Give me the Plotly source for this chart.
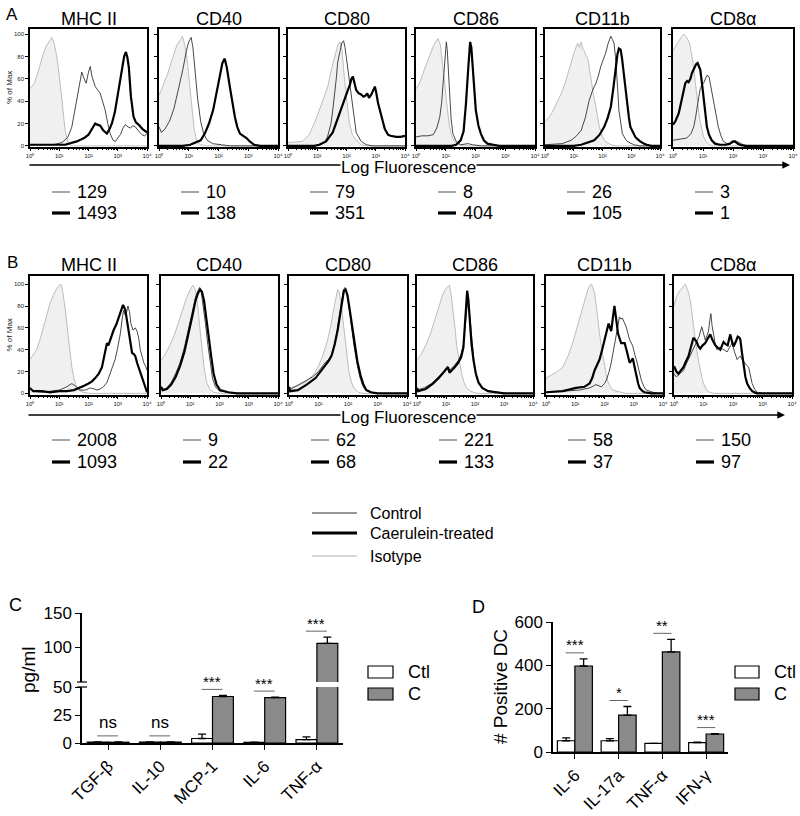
import plotly.graph_objects as go

W, H = 800, 816
FONT = "Arial, 'Liberation Sans', Helvetica, sans-serif"

# ---------------- data ----------------
MARKERS = ["MHC II", "CD40", "CD80", "CD86", "CD11b", "CD8α"]
A_CTL_MFI = [129, 10, 79, 8, 26, 3]
A_TRT_MFI = [1493, 138, 351, 404, 105, 1]
B_CTL_MFI = [2008, 9, 62, 221, 58, 150]
B_TRT_MFI = [1093, 22, 68, 133, 37, 97]

DECADE_VALUES = [1, 10, 100, 1000, 10000]
DECADE_LABELS = ["10⁰", "10¹", "10²", "10³", "10⁴"]
PCT_TICKS = [0, 20, 40, 60, 80, 100]

# histogram curves: (log10 fluorescence, % of max)
A_MHCII_ISO = [(0,51),(0.15,56),(0.3,68),(0.45,82),(0.57,90),(0.68,94),(0.75,97),(0.82,92),(0.91,81),(1.03,56),(1.14,32),(1.2,14),(1.31,2),(1.45,0),(4,0)]
A_MHCII_CTL = [(0,1),(0.8,1),(1.1,3),(1.3,8),(1.43,17),(1.52,30),(1.6,44),(1.7,58),(1.77,66),(1.85,60),(1.92,56),(2.0,66),(2.06,71),(2.12,62),(2.23,53),(2.4,47),(2.57,32),(2.66,20),(2.74,11),(2.84,5),(2.92,4),(3.0,7),(3.09,10),(3.18,16),(3.26,19),(3.35,17),(3.43,16),(3.52,18),(3.6,17),(3.72,13),(3.83,10),(3.92,9),(4,11)]
A_MHCII_TRT = [(0,1),(1.2,1),(1.6,4),(1.85,7),(2.0,10),(2.12,15),(2.23,20),(2.3,19),(2.4,18),(2.5,14),(2.63,11),(2.72,15),(2.8,20),(2.9,30),(2.97,41),(3.05,52),(3.11,62),(3.17,72),(3.22,80),(3.28,84),(3.33,79),(3.38,70),(3.45,44),(3.54,26),(3.62,21),(3.71,19),(3.85,15),(4,12)]
A_CD40_ISO = [(0,45),(0.15,55),(0.3,65),(0.45,78),(0.6,90),(0.72,95),(0.79,98),(0.87,90),(0.95,76),(1.03,55),(1.1,34),(1.18,15),(1.27,4),(1.4,1),(1.6,0),(4,0)]
A_CD40_CTL = [(0,17),(0.08,12),(0.2,15),(0.35,22),(0.5,33),(0.65,50),(0.8,68),(0.92,85),(1.0,93),(1.08,97),(1.14,88),(1.22,65),(1.3,42),(1.4,22),(1.5,11),(1.62,5),(1.8,2),(2.1,1),(2.4,0),(4,0)]
A_CD40_TRT = [(0,0),(0.8,0),(1.05,1),(1.26,3),(1.4,5),(1.54,11),(1.68,20),(1.82,32),(1.93,47),(2.04,62),(2.13,74),(2.21,78),(2.28,70),(2.38,53),(2.47,38),(2.55,26),(2.63,17),(2.72,11),(2.83,9),(2.94,7),(3.05,4),(3.2,1),(3.4,0),(4,0)]
A_CD80_ISO = [(0,3),(0.3,4),(0.49,4),(0.72,10),(0.9,20),(1.07,32),(1.2,42),(1.36,53),(1.48,68),(1.59,80),(1.7,90),(1.78,93),(1.85,85),(1.93,60),(2.02,38),(2.1,20),(2.2,10),(2.33,5),(2.5,1),(2.7,0),(4,0)]
A_CD80_CTL = [(0,0),(0.9,0),(1.1,1),(1.24,3),(1.35,8),(1.47,20),(1.53,32),(1.59,45),(1.65,60),(1.7,75),(1.77,85),(1.84,92),(1.9,94),(1.95,88),(1.99,80),(2.05,68),(2.1,55),(2.16,42),(2.22,30),(2.33,12),(2.5,4),(2.68,1),(2.9,0),(4,0)]
A_CD80_TRT = [(0,0),(0.9,0),(1.07,1),(1.3,4),(1.53,12),(1.76,28),(1.93,40),(2.05,50),(2.12,55),(2.17,60),(2.22,62),(2.27,56),(2.33,50),(2.42,47),(2.5,46),(2.58,44),(2.65,45),(2.71,47),(2.77,43),(2.85,46),(2.92,50),(2.97,53),(3.02,47),(3.08,38),(3.2,26),(3.31,15),(3.42,10),(3.5,9),(3.7,8),(3.85,8),(4,9)]
A_CD86_ISO = [(0,51),(0.12,56),(0.25,66),(0.36,74),(0.47,82),(0.58,89),(0.66,93),(0.74,96),(0.82,90),(0.91,71),(0.97,55),(1.02,41),(1.08,28),(1.13,17),(1.2,9),(1.3,4),(1.45,1),(1.6,0),(4,0)]
A_CD86_CTL = [(0,8),(0.2,9),(0.4,9),(0.58,10),(0.7,16),(0.8,26),(0.86,38),(0.91,56),(0.95,75),(0.99,90),(1.02,93),(1.05,86),(1.09,65),(1.13,41),(1.18,24),(1.24,11),(1.35,4),(1.5,1),(1.75,2),(1.9,1),(2.2,0),(4,0)]
A_CD86_TRT = [(0,0),(1.2,0),(1.35,1),(1.5,5),(1.6,13),(1.68,38),(1.76,71),(1.82,93),(1.86,88),(1.9,71),(1.95,50),(2.01,32),(2.1,18),(2.18,11),(2.28,5),(2.4,2),(2.6,1),(2.8,0),(4,0)]
A_CD11B_ISO = [(0,22),(0.12,25),(0.25,30),(0.4,38),(0.57,47),(0.7,56),(0.8,65),(0.92,75),(1.03,85),(1.14,92),(1.2,88),(1.26,93),(1.32,86),(1.37,85),(1.43,80),(1.49,78),(1.55,68),(1.6,59),(1.68,47),(1.77,35),(1.89,17),(2.0,8),(2.1,4),(2.29,1),(2.5,0),(4,0)]
A_CD11B_CTL = [(0,1),(0.6,2),(0.91,5),(1.1,9),(1.26,14),(1.4,25),(1.54,41),(1.66,50),(1.77,56),(1.85,62),(1.94,71),(2.03,77),(2.11,83),(2.2,92),(2.29,98),(2.35,95),(2.4,92),(2.45,80),(2.49,68),(2.53,50),(2.57,32),(2.63,20),(2.69,11),(2.8,6),(2.86,4),(3.09,1),(3.3,0),(4,0)]
A_CD11B_TRT = [(0,0),(1.0,0),(1.26,1),(1.5,3),(1.71,5),(1.9,10),(2.06,17),(2.18,25),(2.29,35),(2.38,52),(2.46,71),(2.52,82),(2.57,87),(2.63,86),(2.68,78),(2.74,65),(2.8,50),(2.86,35),(2.92,25),(2.97,17),(3.05,12),(3.14,8),(3.22,6),(3.31,4),(3.45,2),(3.54,1),(3.7,0),(4,0)]
A_CD8A_ISO = [(0,85),(0.1,90),(0.2,94),(0.3,98),(0.36,100),(0.45,97),(0.55,92),(0.62,82),(0.69,70),(0.75,55),(0.8,42),(0.86,30),(0.91,21),(0.97,13),(1.02,8),(1.1,4),(1.18,2),(1.3,0),(4,0)]
A_CD8A_CTL = [(0,5),(0.2,6),(0.46,7),(0.6,11),(0.69,17),(0.75,25),(0.8,35),(0.86,44),(0.91,51),(0.97,55),(1.02,56),(1.08,60),(1.13,63),(1.2,62),(1.25,55),(1.29,47),(1.35,40),(1.4,32),(1.46,24),(1.51,17),(1.6,9),(1.68,4),(1.8,2),(1.9,2),(2.0,3),(2.12,4),(2.2,3),(2.34,1),(2.5,0),(4,0)]
A_CD8A_TRT = [(0,19),(0.08,22),(0.19,29),(0.3,42),(0.41,56),(0.47,58),(0.52,57),(0.58,60),(0.63,65),(0.7,69),(0.77,73),(0.82,74),(0.87,71),(0.91,68),(0.97,55),(1.02,41),(1.08,28),(1.13,17),(1.2,10),(1.29,5),(1.4,2),(1.57,1),(1.75,1),(1.9,2),(2.0,4),(2.07,4),(2.15,2),(2.23,1),(2.4,0),(4,0)]

B_MHCII_ISO = [(0,31),(0.1,35),(0.23,40),(0.35,50),(0.46,61),(0.58,72),(0.69,83),(0.8,90),(0.91,96),(1.0,99),(1.06,100),(1.12,93),(1.2,78),(1.31,52),(1.38,35),(1.43,24),(1.5,14),(1.58,7),(1.66,3),(1.83,1),(2.0,0),(4,0)]
B_MHCII_CTL = [(0,5),(0.11,2),(0.4,1),(0.69,2),(1.0,3),(1.26,6),(1.43,9),(1.54,7),(1.71,3),(1.9,3),(2.06,5),(2.2,4),(2.29,3),(2.4,4),(2.51,6),(2.63,10),(2.74,18),(2.85,26),(2.91,31),(3.0,42),(3.09,55),(3.15,68),(3.2,76),(3.25,72),(3.29,73),(3.35,80),(3.4,75),(3.45,64),(3.52,58),(3.6,60),(3.66,57),(3.72,50),(3.77,40),(3.84,33),(3.89,28),(3.95,25),(4,21)]
B_MHCII_TRT = [(0,5),(0.11,2),(0.4,2),(0.69,1),(1.0,2),(1.26,2),(1.5,3),(1.71,5),(1.85,7),(2.0,9),(2.12,11),(2.23,14),(2.35,18),(2.46,24),(2.55,35),(2.63,46),(2.68,44),(2.74,49),(2.8,55),(2.86,58),(2.95,63),(3.03,70),(3.1,75),(3.18,81),(3.22,79),(3.26,76),(3.32,66),(3.37,58),(3.43,45),(3.49,37),(3.55,36),(3.6,34),(3.66,28),(3.71,24),(3.77,20),(3.83,15),(3.9,9),(3.94,5),(4,1)]
B_CD40_ISO = [(0,30),(0.15,36),(0.3,44),(0.45,53),(0.6,65),(0.75,78),(0.88,88),(1.0,95),(1.09,99),(1.17,95),(1.25,82),(1.32,62),(1.4,40),(1.48,22),(1.56,10),(1.66,4),(1.8,1),(2.0,0),(4,0)]
B_CD40_CTL = [(0,5),(0.06,3),(0.2,5),(0.35,10),(0.5,18),(0.65,28),(0.8,42),(0.95,60),(1.08,76),(1.18,88),(1.26,94),(1.32,97),(1.38,92),(1.45,80),(1.52,64),(1.6,45),(1.68,28),(1.76,14),(1.86,6),(2.0,2),(2.3,1),(2.6,0),(4,0)]
B_CD40_TRT = [(0,6),(0.06,3),(0.2,4),(0.35,8),(0.5,15),(0.65,25),(0.8,38),(0.95,55),(1.08,72),(1.18,85),(1.27,92),(1.34,95),(1.4,93),(1.47,85),(1.55,70),(1.63,52),(1.72,33),(1.8,18),(1.9,8),(2.02,3),(2.3,1),(2.6,0),(4,0)]
B_CD80_ISO = [(0,5),(0.3,7),(0.6,11),(0.85,18),(1.0,25),(1.15,35),(1.3,48),(1.42,62),(1.52,78),(1.6,90),(1.65,95),(1.7,93),(1.77,82),(1.85,62),(1.94,38),(2.03,20),(2.12,10),(2.2,5),(2.35,1),(2.5,0),(4,0)]
B_CD80_CTL = [(0,3),(0.2,6),(0.5,10),(0.8,15),(1.0,20),(1.15,25),(1.25,29),(1.35,31),(1.45,36),(1.55,46),(1.65,60),(1.73,75),(1.8,88),(1.85,95),(1.9,97),(1.96,92),(2.03,80),(2.1,64),(2.2,44),(2.3,28),(2.4,15),(2.5,7),(2.6,3),(2.75,1),(3.0,0),(4,0)]
B_CD80_TRT = [(0,6),(0.04,2),(0.3,3),(0.6,8),(0.9,14),(1.1,21),(1.25,27),(1.35,30),(1.45,35),(1.55,45),(1.65,58),(1.74,74),(1.81,88),(1.86,94),(1.92,95),(1.98,90),(2.05,78),(2.13,62),(2.22,45),(2.32,29),(2.42,17),(2.52,8),(2.62,3),(2.78,1),(3.0,0),(4,0)]
B_CD86_ISO = [(0,31),(0.15,36),(0.3,44),(0.45,54),(0.6,66),(0.75,79),(0.87,89),(0.97,95),(1.06,98),(1.11,99),(1.17,92),(1.25,76),(1.32,58),(1.37,43),(1.45,30),(1.54,18),(1.62,10),(1.71,5),(1.85,2),(1.94,1),(2.1,0),(4,0)]
B_CD86_CTL = [(0,3),(0.25,5),(0.5,9),(0.7,14),(0.85,18),(0.97,22),(1.05,25),(1.12,21),(1.2,23),(1.3,26),(1.42,30),(1.52,36),(1.6,45),(1.66,60),(1.71,78),(1.75,86),(1.79,80),(1.84,66),(1.9,45),(1.97,28),(2.05,15),(2.15,8),(2.3,4),(2.5,2),(2.8,1),(3.1,0),(4,0)]
B_CD86_TRT = [(0,5),(0.04,2),(0.3,4),(0.55,9),(0.75,14),(0.9,19),(1.0,22),(1.07,24),(1.12,19),(1.2,21),(1.3,24),(1.42,28),(1.52,33),(1.6,42),(1.65,60),(1.69,82),(1.73,94),(1.77,86),(1.82,65),(1.88,45),(1.95,30),(2.03,18),(2.12,10),(2.25,5),(2.45,2),(2.7,1),(3.0,0),(4,0)]
B_CD11B_ISO = [(0,14),(0.2,17),(0.4,20),(0.57,24),(0.75,34),(0.91,46),(1.05,59),(1.2,73),(1.32,85),(1.43,95),(1.5,99),(1.55,100),(1.6,97),(1.66,92),(1.72,80),(1.77,67),(1.83,55),(1.89,43),(1.95,33),(2.0,24),(2.06,17),(2.11,11),(2.2,6),(2.29,3),(2.51,1),(2.7,0),(4,0)]
B_CD11B_CTL = [(0,1),(0.57,2),(1.14,3),(1.49,5),(1.71,8),(1.89,6),(2.0,9),(2.06,12),(2.15,19),(2.23,28),(2.32,40),(2.4,52),(2.46,62),(2.51,70),(2.56,68),(2.61,69),(2.67,65),(2.74,61),(2.8,55),(2.86,49),(2.92,46),(2.97,43),(3.03,36),(3.09,31),(3.17,22),(3.26,12),(3.35,6),(3.43,3),(3.66,1),(3.85,0),(4,0)]
B_CD11B_TRT = [(0,1),(0.57,2),(1.03,5),(1.31,6),(1.49,9),(1.58,14),(1.66,21),(1.75,27),(1.83,31),(1.92,40),(2.0,49),(2.07,57),(2.14,64),(2.19,60),(2.23,57),(2.28,68),(2.34,80),(2.4,68),(2.46,55),(2.52,50),(2.57,46),(2.63,46),(2.69,46),(2.75,40),(2.8,35),(2.86,28),(2.92,30),(2.97,32),(3.03,24),(3.09,15),(3.15,9),(3.2,5),(3.3,2),(3.37,1),(3.6,0),(4,0)]
B_CD8A_ISO = [(0,80),(0.09,89),(0.2,94),(0.3,98),(0.38,100),(0.46,95),(0.55,86),(0.6,75),(0.66,61),(0.72,50),(0.77,40),(0.83,30),(0.89,21),(0.95,14),(1.0,9),(1.06,5),(1.11,3),(1.2,1),(1.35,0),(4,0)]
B_CD8A_CTL = [(0,18),(0.08,15),(0.15,17),(0.24,19),(0.32,21),(0.4,26),(0.49,31),(0.57,36),(0.66,40),(0.72,44),(0.77,46),(0.85,52),(0.94,61),(1.0,55),(1.06,49),(1.12,53),(1.17,57),(1.22,68),(1.25,73),(1.29,62),(1.34,52),(1.4,45),(1.45,40),(1.54,42),(1.63,41),(1.72,39),(1.8,38),(1.88,42),(1.97,46),(2.05,38),(2.14,31),(2.2,33),(2.25,34),(2.31,31),(2.36,29),(2.45,26),(2.53,24),(2.6,16),(2.65,9),(2.73,4),(2.82,1),(3.0,0),(4,0)]
B_CD8A_TRT = [(0,25),(0.08,20),(0.15,18),(0.24,21),(0.32,24),(0.4,29),(0.49,34),(0.57,42),(0.66,51),(0.72,49),(0.77,47),(0.83,43),(0.89,41),(0.97,44),(1.06,46),(1.14,50),(1.23,54),(1.3,49),(1.4,44),(1.48,42),(1.57,40),(1.63,44),(1.68,47),(1.75,45),(1.82,44),(1.87,50),(1.91,54),(1.96,48),(2.02,43),(2.09,47),(2.16,52),(2.22,51),(2.25,49),(2.3,38),(2.36,24),(2.42,15),(2.48,9),(2.56,5),(2.65,2),(2.8,0),(4,0)]

A_ISO = [A_MHCII_ISO, A_CD40_ISO, A_CD80_ISO, A_CD86_ISO, A_CD11B_ISO, A_CD8A_ISO]
A_CTL = [A_MHCII_CTL, A_CD40_CTL, A_CD80_CTL, A_CD86_CTL, A_CD11B_CTL, A_CD8A_CTL]
A_TRT = [A_MHCII_TRT, A_CD40_TRT, A_CD80_TRT, A_CD86_TRT, A_CD11B_TRT, A_CD8A_TRT]
B_ISO = [B_MHCII_ISO, B_CD40_ISO, B_CD80_ISO, B_CD86_ISO, B_CD11B_ISO, B_CD8A_ISO]
B_CTL = [B_MHCII_CTL, B_CD40_CTL, B_CD80_CTL, B_CD86_CTL, B_CD11B_CTL, B_CD8A_CTL]
B_TRT = [B_MHCII_TRT, B_CD40_TRT, B_CD80_TRT, B_CD86_TRT, B_CD11B_TRT, B_CD8A_TRT]

LEGEND_LABELS = ["Control", "Caerulein-treated", "Isotype"]

# panel C (cytokines, pg/ml)
C_CATS = ["TGF-β", "IL-10", "MCP-1", "IL-6", "TNF-α"]
C_CTL = [0.8, 0.8, 4.0, 0.6, 3.0]
C_CTL_ERR = [0.2, 0.2, 4.0, 0.2, 2.5]
C_TRT = [0.7, 0.8, 41.5, 40.5, 106]
C_TRT_ERR = [0.2, 0.2, 1.0, 0.5, 9.0]
C_SIG = ["ns", "ns", "***", "***", "***"]
C_TICKS_LOW = [0, 25, 50]
C_TICKS_HIGH = [100, 150]

# panel D (# positive DC)
D_CATS = ["IL-6", "IL-17a", "TNF-α", "IFN-γ"]
D_CTL = [52, 52, 40, 43]
D_CTL_ERR = [13, 10, 0, 3]
D_TRT = [397, 170, 462, 83]
D_TRT_ERR = [33, 40, 58, 2]
D_SIG = ["***", "*", "**", "***"]
D_TICKS = [0, 200, 400, 600]
GROUP_LABELS = ["Ctl", "C"]

# ---------------- styles / layout helpers ----------------
ISO_LINE = "#bdbdbd"
ISO_FILL = "#f0f0f0"
CTL_LINE = "#333333"
BAR_GREY = "#8a8a8a"


def fx(px):
    return px / W


def fy(py):
    return 1 - py / H


def axn(k, kind):
    return kind if k == 1 else f"{kind}{k}"


def axk(k, kind):
    return f"{kind}axis" if k == 1 else f"{kind}axis{k}"


def text_at(xpx, ypx, text, size, xanchor="center", **kw):
    return dict(x=fx(xpx), y=fy(ypx), xref="paper", yref="paper", text=text,
                showarrow=False, xanchor=xanchor, yanchor="middle",
                font=dict(size=size, color=kw.pop("color", "black")), **kw)


fig = go.Figure()
layout = {}
annotations = []
shapes = []

ROWS = [
    dict(iso=A_ISO, ctl=A_CTL, trt=A_TRT, ctl_mfi=A_CTL_MFI, trt_mfi=A_TRT_MFI,
         left=[30, 159, 288, 416, 545, 673], right=[147, 278, 405, 535, 660, 793],
         top=29, bottom=147, yrange=[-1, 104.5], title_y=19, label="A", label_y=14,
         arrow_y=165, arrow_x0=28, arrow_x1=790, mfi_y=(192, 213)),
    dict(iso=B_ISO, ctl=B_CTL, trt=B_TRT, ctl_mfi=B_CTL_MFI, trt_mfi=B_TRT_MFI,
         left=[30, 161, 289, 417, 546, 674], right=[147, 278, 407, 533, 663, 792],
         top=276, bottom=395, yrange=[-1.5, 107.5], title_y=265, label="B", label_y=262,
         arrow_y=415, arrow_x0=27, arrow_x1=785, mfi_y=(440, 462)),
]

k = 0
for row in ROWS:
    for j in range(6):
        k += 1
        xn, yn = axn(k, "x"), axn(k, "y")
        L, R = row["left"][j], row["right"][j]
        specs = [
            (row["iso"][j], ISO_LINE, 1.0, True),
            (row["ctl"][j], CTL_LINE, 0.9, False),
            (row["trt"][j], "black", 2.2, False),
        ]
        for curve, color, width, filled in specs:
            fig.add_trace(go.Scatter(
                x=[10 ** p[0] for p in curve], y=[p[1] for p in curve],
                mode="lines", line=dict(color=color, width=width),
                fill="tozeroy" if filled else None,
                fillcolor=ISO_FILL if filled else None,
                xaxis=xn, yaxis=yn, showlegend=False, hoverinfo="skip"))
        layout[axk(k, "x")] = dict(
            domain=[fx(L), fx(R)], anchor=yn, type="log", range=[0, 4], automargin=False,
            tickmode="array", tickvals=DECADE_VALUES, ticktext=DECADE_LABELS,
            tickfont=dict(size=6, color="#222"), ticks="outside", ticklen=2,
            tickwidth=0.8, tickcolor="black",
            minor=dict(ticks="outside", ticklen=1.5, tickwidth=0.5, tickcolor="black", dtick="D1"),
            showline=True, mirror=True, linecolor="black", linewidth=1.5,
            showgrid=False, zeroline=False)
        layout[axk(k, "y")] = dict(
            domain=[fy(row["bottom"]), fy(row["top"])], anchor=xn, range=row["yrange"],
            automargin=False,
            tickmode="array", tickvals=PCT_TICKS, showticklabels=(j == 0),
            tickfont=dict(size=6, color="#222"), ticks="outside", ticklen=3,
            tickwidth=0.8, tickcolor="black",
            showline=True, mirror=True, linecolor="black", linewidth=1.5,
            showgrid=False, zeroline=False)
        # panel title
        annotations.append(text_at((L + R) / 2, row["title_y"], MARKERS[j], 18))
        # MFI values
        for mfi, ypx, dcol, dw in [(row["ctl_mfi"][j], row["mfi_y"][0], "#777777", 1.3),
                                   (row["trt_mfi"][j], row["mfi_y"][1], "black", 3.2)]:
            shapes.append(dict(type="line", xref="paper", yref="paper",
                               x0=fx(L + 22), x1=fx(L + 40), y0=fy(ypx), y1=fy(ypx),
                               line=dict(color=dcol, width=dw)))
            annotations.append(text_at(L + 45, ypx, str(mfi), 18, xanchor="left"))
    # "% of Max" axis title (first panel of the row)
    annotations.append(text_at(9, (row["top"] + row["bottom"]) / 2, "% of Max", 8,
                               textangle=-90, color="#222"))
    # row label
    annotations.append(text_at(12, row["label_y"], row["label"], 17))
    # Log Fluorescence arrow
    annotations.append(dict(x=fx(row["arrow_x1"]), y=fy(row["arrow_y"]), xref="paper", yref="paper",
                            ax=-(row["arrow_x1"] - row["arrow_x0"]), ay=0, text="",
                            showarrow=True, arrowhead=2, arrowsize=1.1, arrowwidth=1.4,
                            arrowcolor="black"))
    annotations.append(text_at(408, row["arrow_y"] + 3, "Log Fluorescence", 17,
                               bgcolor="white", borderpad=0, height=17, valign="middle"))

# histogram legend
for label, ypx, col, wd in zip(LEGEND_LABELS, [513, 533, 556],
                               [CTL_LINE, "black", "#c8c8c8"], [1.2, 3.0, 1.5]):
    shapes.append(dict(type="line", xref="paper", yref="paper", x0=fx(312), x1=fx(357),
                       y0=fy(ypx), y1=fy(ypx), line=dict(color=col, width=wd)))
    annotations.append(text_at(368, ypx, label, 16, xanchor="left"))

# ---------------- panel C ----------------
zeros_c = [0 for _ in C_CATS]
for xn, yn in [("x13", "y13"), ("x14", "y14")]:
    fig.add_trace(go.Bar(x=C_CATS, y=C_CTL, name=GROUP_LABELS[0],
                         error_y=dict(type="data", array=C_CTL_ERR, arrayminus=zeros_c, symmetric=False,
                                      color="black", thickness=1.3, width=4),
                         marker=dict(color="white", line=dict(color="black", width=1.2)),
                         xaxis=xn, yaxis=yn, showlegend=False, hoverinfo="skip"))
    fig.add_trace(go.Bar(x=C_CATS, y=C_TRT, name=GROUP_LABELS[1],
                         error_y=dict(type="data", array=C_TRT_ERR, arrayminus=zeros_c, symmetric=False,
                                      color="black", thickness=1.3, width=4),
                         marker=dict(color=BAR_GREY, line=dict(color="black", width=1.2)),
                         xaxis=xn, yaxis=yn, showlegend=False, hoverinfo="skip"))

axis_common = dict(showline=True, linecolor="black", linewidth=1.5, showgrid=False, automargin=False,
                   zeroline=False, ticks="outside", tickcolor="black", tickwidth=1.2, ticklen=5)
layout["xaxis13"] = dict(domain=[fx(82), fx(343)], anchor="y13", type="category",
                         categoryorder="array", categoryarray=C_CATS, range=[-0.5, 4.5],
                         tickangle=-45, tickfont=dict(size=17), **axis_common)
layout["yaxis13"] = dict(domain=[fy(743), fy(687)], anchor="x13", range=[0, 50],
                         tickmode="array", tickvals=C_TICKS_LOW, tickfont=dict(size=17), **axis_common)
layout["xaxis14"] = dict(domain=[fx(82), fx(343)], anchor="y14", type="category",
                         categoryorder="array", categoryarray=C_CATS, range=[-0.5, 4.5],
                         visible=False, automargin=False)
layout["yaxis14"] = dict(domain=[fy(682), fy(613)], anchor="x14", range=[50, 150],
                         tickmode="array", tickvals=C_TICKS_HIGH, tickfont=dict(size=17), **axis_common)
# axis break marks
for ypx in (682, 687):
    shapes.append(dict(type="line", xref="paper", yref="paper", x0=fx(77), x1=fx(87),
                       y0=fy(ypx), y1=fy(ypx), line=dict(color="black", width=1.2)))
annotations.append(text_at(28, 670, "pg/ml", 19, textangle=-90))
annotations.append(text_at(15, 605, "C", 18))

for i, sig in enumerate(C_SIG):
    top = max(C_CTL[i] + C_CTL_ERR[i], C_TRT[i] + C_TRT_ERR[i])
    xr, yr = ("x14", "y14") if top > 50 else ("x13", "y13")
    shapes.append(dict(type="line", xref=xr, yref=yr, x0=i - 0.21, x1=i + 0.19,
                       ysizemode="pixel", yanchor=top, y0=6, y1=6,
                       line=dict(color="#666666", width=1)))
    annotations.append(dict(x=i - 0.01, y=top, xref=xr, yref=yr, yanchor="middle", xanchor="center",
                            yshift=(19 if sig == "ns" else 14), text=sig, showarrow=False,
                            font=dict(size=(17 if sig == "ns" else 15))))

# ---------------- panel D ----------------
zeros_d = [0 for _ in D_CATS]
fig.add_trace(go.Bar(x=D_CATS, y=D_CTL, name=GROUP_LABELS[0],
                     error_y=dict(type="data", array=D_CTL_ERR, arrayminus=zeros_d, symmetric=False,
                                  color="black", thickness=1.3, width=4),
                     marker=dict(color="white", line=dict(color="black", width=1.2)),
                     xaxis="x15", yaxis="y15", showlegend=False, hoverinfo="skip"))
fig.add_trace(go.Bar(x=D_CATS, y=D_TRT, name=GROUP_LABELS[1],
                     error_y=dict(type="data", array=D_TRT_ERR, arrayminus=zeros_d, symmetric=False,
                                  color="black", thickness=1.3, width=4),
                     marker=dict(color=BAR_GREY, line=dict(color="black", width=1.2)),
                     xaxis="x15", yaxis="y15", showlegend=False, hoverinfo="skip"))
layout["xaxis15"] = dict(domain=[fx(553), fx(728)], anchor="y15", type="category",
                         categoryorder="array", categoryarray=D_CATS, range=[-0.5, 3.5],
                         tickangle=-45, tickfont=dict(size=17), **axis_common)
layout["yaxis15"] = dict(domain=[fy(752), fy(622)], anchor="x15", range=[0, 600],
                         tickmode="array", tickvals=D_TICKS, tickfont=dict(size=17), **axis_common)
annotations.append(text_at(500, 687, "# Positive DC", 19, textangle=-90))
annotations.append(text_at(478, 607, "D", 18))
for i, sig in enumerate(D_SIG):
    top = max(D_CTL[i] + D_CTL_ERR[i], D_TRT[i] + D_TRT_ERR[i])
    shapes.append(dict(type="line", xref="x15", yref="y15", x0=i - 0.21, x1=i + 0.21,
                       ysizemode="pixel", yanchor=top, y0=6, y1=6,
                       line=dict(color="#666666", width=1)))
    annotations.append(dict(x=i, y=top, xref="x15", yref="y15", yanchor="middle", xanchor="center",
                            yshift=14, text=sig, showarrow=False, font=dict(size=15)))

# bar legends (C and D)
for bx0, bx1, tx in [(368, 393, 406), (735, 759, 772)]:
    for label, (y0, y1), col in zip(GROUP_LABELS, [(666, 678), (688, 700)], ["white", BAR_GREY]):
        shapes.append(dict(type="rect", xref="paper", yref="paper", x0=fx(bx0), x1=fx(bx1),
                           y0=fy(y1), y1=fy(y0), fillcolor=col,
                           line=dict(color="black", width=1.2)))
        annotations.append(text_at(tx, (y0 + y1) / 2, label, 18, xanchor="left"))

fig.update_layout(
    width=W, height=H, autosize=False,
    margin=dict(l=0, r=0, t=0, b=0, autoexpand=False),
    paper_bgcolor="white", plot_bgcolor="white",
    font=dict(family=FONT, color="black"),
    barmode="group", bargap=0.2, bargroupgap=0,
    showlegend=False,
    annotations=annotations, shapes=shapes,
    **layout,
)

fig.write_html("out.html", config={"displayModeBar": False},
               post_script="document.body.style.margin='0';")
